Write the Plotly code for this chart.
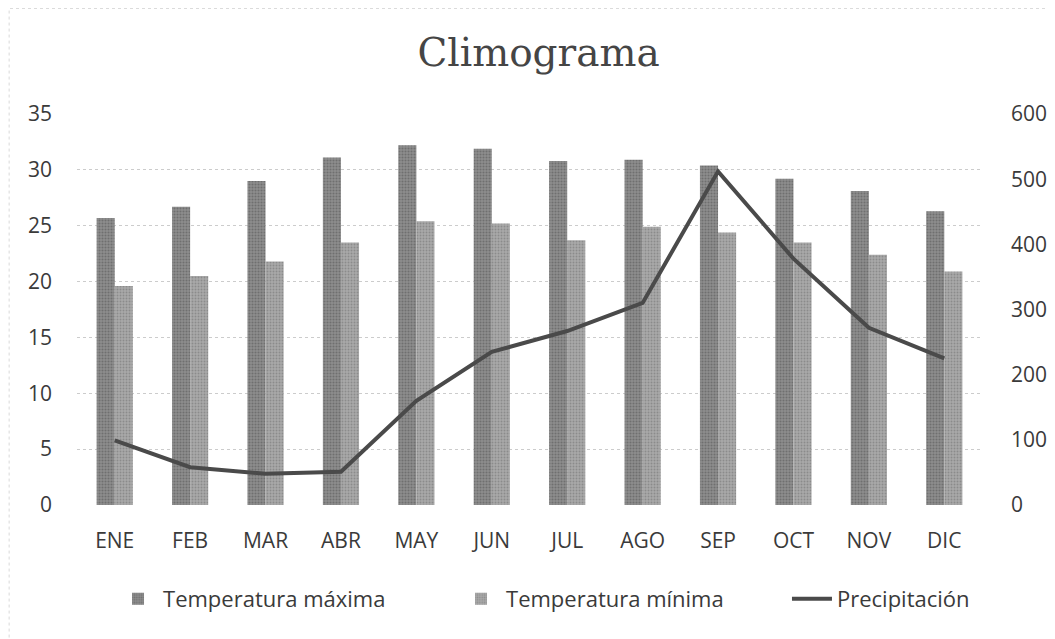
import plotly.graph_objects as go

meses = ["ENE", "FEB", "MAR", "ABR", "MAY", "JUN", "JUL", "AGO", "SEP", "OCT", "NOV", "DIC"]
temp_max = [25.7, 26.7, 29.0, 31.1, 32.2, 31.9, 30.8, 30.9, 30.4, 29.2, 28.1, 26.3]
temp_min = [19.6, 20.5, 21.8, 23.5, 25.4, 25.2, 23.7, 24.9, 24.4, 23.5, 22.4, 20.9]
precip = [99, 58, 48, 51, 160, 235, 267, 310, 512, 378, 272, 225]

left_ticks = [0, 5, 10, 15, 20, 25, 30, 35]
right_ticks = [0, 100, 200, 300, 400, 500, 600]

tick_font = dict(family="Open Sans, Liberation Sans, sans-serif", size=21, color="#3a3a3a")
legend_font = dict(family="Open Sans, Liberation Sans, sans-serif", size=22, color="#3a3a3a")

fig = go.Figure()
fig.add_trace(go.Bar(
    x=meses, y=temp_max, name="Temperatura máxima", legend="legend",
    marker=dict(color="#858585", line=dict(width=0),
                pattern=dict(shape=".", size=3, solidity=0.4, fgcolor="#505050", bgcolor="#8e8e8e")),
))
fig.add_trace(go.Bar(
    x=meses, y=temp_min, name="Temperatura mínima", legend="legend2",
    marker=dict(color="#9e9e9e", line=dict(width=0),
                pattern=dict(shape=".", size=3, solidity=0.35, fgcolor="#6e6e6e", bgcolor="#a9a9a9")),
))
fig.add_trace(go.Scatter(
    x=meses, y=precip, name="Precipitación", yaxis="y2", mode="lines", legend="legend3",
    line=dict(color="#4a4a4a", width=4),
))

common_leg = dict(orientation="h", xanchor="left", y=-0.24, yanchor="middle",
                  font=legend_font, itemwidth=40, bgcolor="rgba(0,0,0,0)")

fig.update_layout(
    width=1055, height=639,
    paper_bgcolor="white", plot_bgcolor="white",
    margin=dict(l=69, r=81, t=106, b=142),
    title=dict(text="Climograma", xref="paper", x=0.51, xanchor="center",
               yref="container", y=0.931, yanchor="middle",
               font=dict(family="DejaVu Serif, Liberation Serif, serif", size=39, color="#454545")),
    barmode="group", bargap=0.52, bargroupgap=0.0,
    xaxis=dict(type="category", tickfont=tick_font, showgrid=False, ticks="",
               showline=False, ticklabelstandoff=21),
    yaxis=dict(range=[0, 35], tickvals=left_ticks, tickfont=tick_font,
               showgrid=True, gridcolor="#cccccc", griddash="dot", gridwidth=1,
               zeroline=False, ticks="", ticklabelstandoff=24),
    yaxis2=dict(range=[0, 600], tickvals=right_ticks, overlaying="y", side="right",
                tickfont=tick_font, showgrid=False, zeroline=False, ticks="",
                ticklabelstandoff=28),
    legend=dict(x=0.0398, **common_leg),
    legend2=dict(x=0.4188, **common_leg),
    legend3=dict(x=0.7845, **common_leg),
    showlegend=True,
)
fig.add_shape(type="rect", xref="paper", yref="paper", x0=-0.075, x1=1.08, y0=-0.36, y1=1.27,
              line=dict(color="#d9d9d9", width=1, dash="dot"))

fig.write_html("out.html")
